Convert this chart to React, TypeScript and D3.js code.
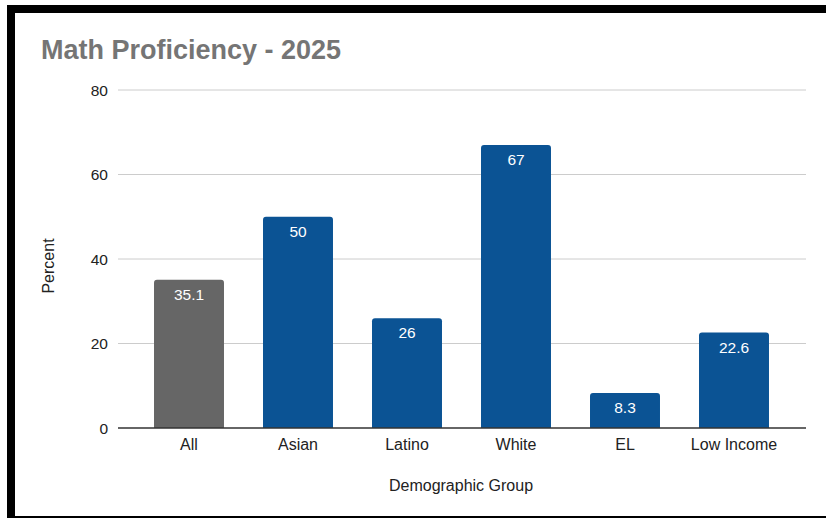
import React from "react";
import * as d3 from "d3";

const categories = ["All", "Asian", "Latino", "White", "EL", "Low Income"];
const values = [35.1, 50, 26, 67, 8.3, 22.6];
const valueLabels = ["35.1", "50", "26", "67", "8.3", "22.6"];
const barColors = ["#666666", "#0b5394", "#0b5394", "#0b5394", "#0b5394", "#0b5394"];
const yTicks = [0, 20, 40, 60, 80];
const title = "Math Proficiency - 2025";
const xTitle = "Demographic Group";
const yTitle = "Percent";

const W = 826;
const H = 518;

function topRoundedRect(x: number, y: number, w: number, h: number, r: number) {
  const rr = Math.min(r, h, w / 2);
  return `M${x},${y + h}V${y + rr}Q${x},${y} ${x + rr},${y}H${x + w - rr}Q${x + w},${y} ${x + w},${y + rr}V${y + h}Z`;
}

export default function App() {
  const x = d3
    .scaleBand<string>()
    .domain(categories)
    .range([134.5, 788.5])
    .paddingInner(0.358)
    .paddingOuter(0.179);
  const y = d3.scaleLinear().domain([0, 80]).range([428, 90]);
  const font = "'Liberation Sans', Arial, sans-serif";

  return (
    <svg
      width={W}
      height={H}
      style={{ position: "absolute", left: 0, top: 0, display: "block", background: "#fff" }}
    >
      <rect x={0} y={0} width={W} height={H} fill="#fff" />
      {/* frame */}
      <rect x={7} y={5} width={W - 7} height={8} fill="#000" />
      <rect x={7} y={5} width={8} height={H - 5} fill="#000" />
      <rect x={7} y={516} width={W - 7} height={2} fill="#000" />

      <text x={41} y={59} fontFamily={font} fontWeight="bold" fontSize={27} fill="#757575">
        {title}
      </text>

      {yTicks.map((t) => (
        <g key={t}>
          {t !== 0 && (
            <line x1={118} x2={806} y1={y(t)} y2={y(t)} stroke="#cccccc" strokeWidth={1} />
          )}
          <text
            x={108}
            y={y(t)}
            dy="0.36em"
            textAnchor="end"
            fontFamily={font}
            fontSize={15.5}
            fill="#222"
          >
            {t}
          </text>
        </g>
      ))}

      {categories.map((c, i) => {
        const bx = x(c)!;
        const bw = x.bandwidth();
        const by = y(values[i]);
        const bh = y(0) - by;
        return (
          <g key={c}>
            <path d={topRoundedRect(bx, by, bw, bh, 3)} fill={barColors[i]} />
            <text
              x={bx + bw / 2}
              y={by + 20}
              textAnchor="middle"
              fontFamily={font}
              fontSize={15.5}
              fill="#ffffff"
            >
              {valueLabels[i]}
            </text>
            <text
              x={bx + bw / 2}
              y={450}
              textAnchor="middle"
              fontFamily={font}
              fontSize={16}
              fill="#222"
            >
              {c}
            </text>
          </g>
        );
      })}

      <line x1={118} x2={806} y1={y(0)} y2={y(0)} stroke="#333333" strokeWidth={1.5} />

      <text x={461} y={491} textAnchor="middle" fontFamily={font} fontSize={16} fill="#222">
        {xTitle}
      </text>
      <text
        transform={`translate(54,266) rotate(-90)`}
        textAnchor="middle"
        fontFamily={font}
        fontSize={16}
        fill="#222"
      >
        {yTitle}
      </text>
    </svg>
  );
}
